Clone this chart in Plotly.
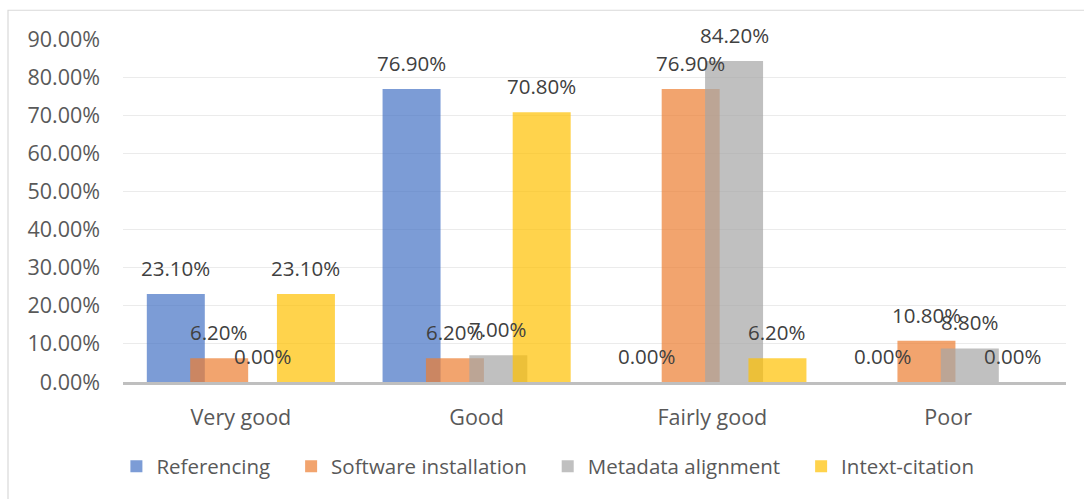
import plotly.graph_objects as go

categories = ["Very good", "Good", "Fairly good", "Poor"]
series_names = ["Referencing", "Software installation", "Metadata alignment", "Intext-citation"]
referencing = [0.231, 0.769, 0.0, 0.0]
software_installation = [0.062, 0.062, 0.769, 0.108]
metadata_alignment = [0.0, 0.070, 0.842, 0.088]
intext_citation = [0.231, 0.708, 0.062, 0.0]
y_ticks = [0.0, 0.1, 0.2, 0.3, 0.4, 0.5, 0.6, 0.7, 0.8, 0.9]

series_values = [referencing, software_installation, metadata_alignment, intext_citation]
colors = ["rgba(68,114,196,0.7)", "rgba(237,125,49,0.7)",
          "rgba(165,165,165,0.7)", "rgba(255,192,0,0.7)"]

FONT = "Open Sans"
bar_w = 0.246
step = 0.184
x_idx = list(range(len(categories)))

fig = go.Figure()
annotations = []
for s, (name, vals, col) in enumerate(zip(series_names, series_values, colors)):
    center = (s - 1.5) * step
    fig.add_trace(go.Bar(
        x=x_idx, y=vals, name=name + "\u00a0" * 3,
        marker=dict(color=col, line=dict(width=0)),
        width=bar_w, offset=center - bar_w / 2,
        hoverinfo="skip",
    ))
    for i, v in enumerate(vals):
        annotations.append(dict(
            x=i + center, y=v, xref="x", yref="y",
            text=f"{v * 100:.2f}%", showarrow=False,
            yanchor="bottom", xanchor="center", yshift=10,
            font=dict(family=FONT, size=20.5, color="#404040"),
        ))

fig.update_layout(
    width=1084, height=499,
    margin=dict(l=123, r=18, t=39, b=114),
    paper_bgcolor="white", plot_bgcolor="white",
    barmode="overlay",
    showlegend=True,
    legend=dict(orientation="h", x=-0.007, xanchor="left", y=-0.246, yanchor="middle",
                font=dict(family=FONT, size=20.5, color="#595959"),
                bgcolor="rgba(0,0,0,0)", itemclick=False),
    annotations=annotations,
    shapes=[dict(type="rect", xref="paper", yref="paper",
                 x0=(8 - 123) / 943, x1=(1095 - 123) / 943,
                 y0=(385 - 510) / 346, y1=(385 - 10) / 346,
                 line=dict(color="#D9D9D9", width=1.2), layer="below")],
    xaxis=dict(
        range=[-0.5, 3.5], tickvals=x_idx, ticktext=categories,
        showgrid=False, zeroline=False,
        showline=True, linecolor="#BFBFBF", linewidth=2.5,
        ticks="", ticklabelstandoff=14,
        tickfont=dict(family=FONT, size=21.5, color="#595959"),
    ),
    yaxis=dict(
        range=[0, 0.9], tickvals=y_ticks, tickformat=".2%",
        showgrid=True, gridcolor="#EBEBEB", gridwidth=1,
        zeroline=False, showline=False,
        ticks="", ticklabelstandoff=22,
        tickfont=dict(family=FONT, size=21.5, color="#595959"),
    ),
)

fig.write_html("out.html")
